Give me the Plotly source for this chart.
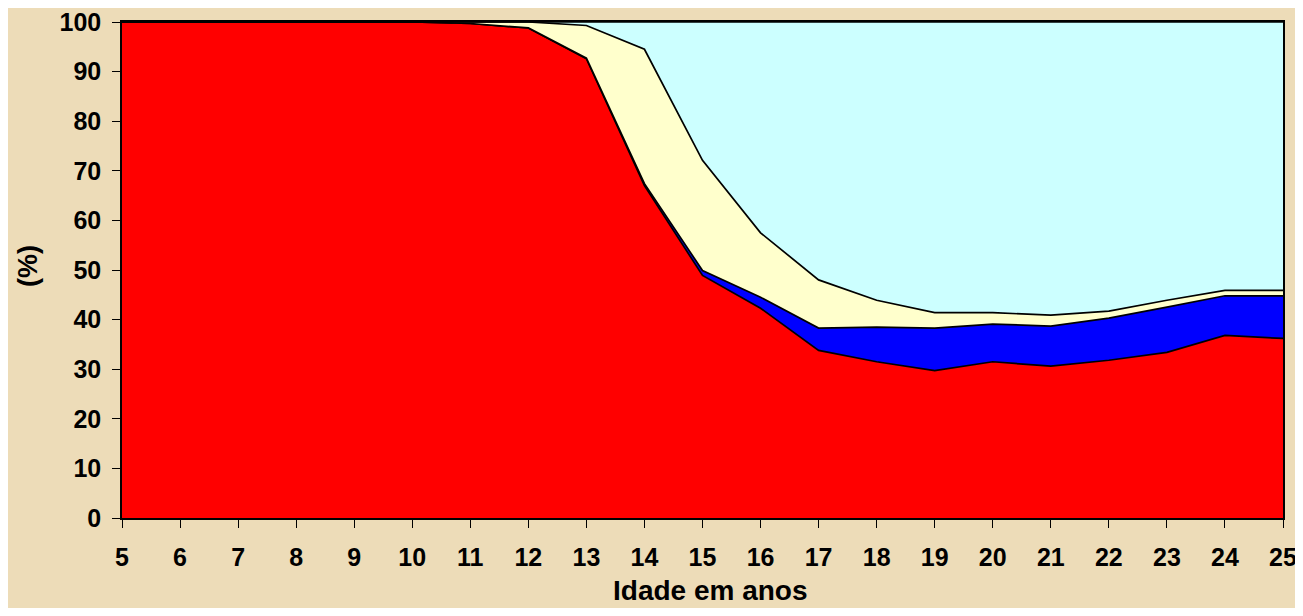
import plotly.graph_objects as go

# Idade em anos
idades = list(range(5, 26))

# Percentagens por grupo (empilhadas)
vermelho = [100, 100, 100, 100, 100, 100, 99.7, 98.8, 92.6, 67.0, 48.9, 42.3,
            33.8, 31.5, 29.7, 31.5, 30.6, 31.8, 33.4, 36.8, 36.2]
azul = [0, 0, 0, 0, 0, 0, 0, 0, 0.1, 0.4, 1.0, 2.2,
        4.5, 7.0, 8.6, 7.6, 8.1, 8.5, 9.1, 8.0, 8.6]
creme = [0, 0, 0, 0, 0, 0, 0.3, 1.2, 6.6, 27.1, 22.2, 13.0,
         9.7, 5.4, 3.1, 2.3, 2.2, 1.4, 1.4, 1.1, 1.1]
ciano = [0, 0, 0, 0, 0, 0, 0, 0, 0.7, 5.5, 27.9, 42.5,
         52.0, 56.1, 58.6, 58.6, 59.1, 58.3, 56.1, 54.1, 54.1]

series = [
    ("vermelho", vermelho, "#FF0000"),
    ("azul", azul, "#0000FF"),
    ("creme", creme, "#FFFFCC"),
    ("ciano", ciano, "#CCFFFF"),
]

fig = go.Figure()
for nome, valores, cor in series:
    fig.add_trace(go.Scatter(
        x=idades, y=valores, name=nome, mode="lines",
        stackgroup="um", fillcolor=cor,
        line=dict(color="black", width=1.7),
    ))

familia = "Liberation Sans, Arial, sans-serif"
fonte_ticks = dict(family=familia, size=25, color="black", weight="bold")

eixo = dict(
    showgrid=False, zeroline=False, automargin=False,
    showline=True, linecolor="black", linewidth=1.5, mirror=True,
    ticks="outside", ticklen=8, tickcolor="black", tickwidth=1.2,
    tickfont=fonte_ticks, ticklabeloverflow="allow",
)

# o body da pagina tem margem de 8px, a figura compensa isso
fig.update_layout(
    width=1295, height=600,
    margin=dict(l=114, r=20, t=14, b=90),
    paper_bgcolor="#EDDCB8",
    plot_bgcolor="#EDDCB8",
    showlegend=False,
    font=dict(family=familia, color="black"),
    xaxis=dict(eixo, range=[5, 25], dtick=1, tick0=5, ticklabelstandoff=8),
    yaxis=dict(eixo, range=[0, 100], dtick=10, ticklabelstandoff=6),
)

# titulos dos eixos
fig.add_annotation(
    text="<b>Idade em anos</b>", xref="paper", yref="paper", x=0.5, y=0,
    xanchor="center", yanchor="middle", xshift=8, yshift=-72,
    showarrow=False, font=dict(size=28),
)
fig.add_annotation(
    text="<b>(%)</b>", xref="paper", yref="paper", x=0, y=0.5,
    xanchor="center", yanchor="middle", xshift=-94, yshift=4,
    textangle=-90, showarrow=False, font=dict(size=27),
)

fig.write_html("out.html")
